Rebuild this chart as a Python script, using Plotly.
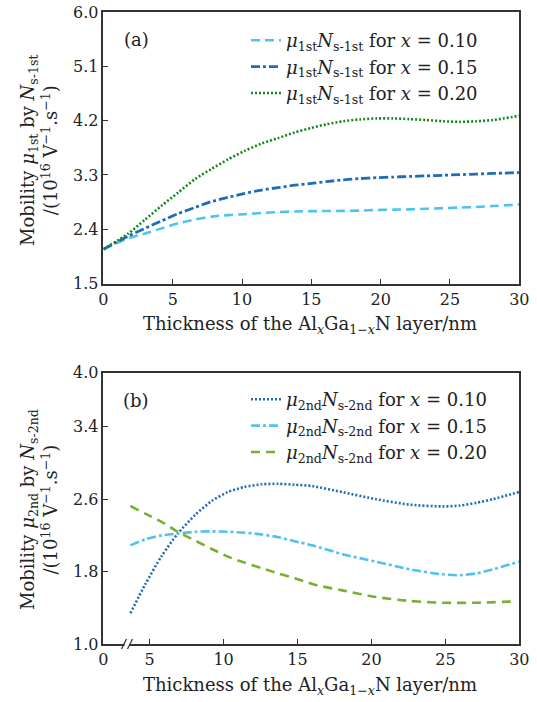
import plotly.graph_objects as go

# ---------------- data: panel (a) ----------------
xa = [0, 1.8, 3.0, 4.2, 5.4, 6.6, 7.8, 9.0, 10.2, 11.4, 12.6, 13.8, 15.0, 16.1, 17.3, 18.5,
      19.7, 20.9, 22.1, 23.3, 24.5, 25.7, 26.9, 28.1, 30.0]
a_x010 = [2.07, 2.25, 2.33, 2.415, 2.50, 2.56, 2.61, 2.635, 2.65, 2.67, 2.685, 2.695, 2.70, 2.703,
          2.705, 2.71, 2.72, 2.725, 2.73, 2.74, 2.75, 2.76, 2.77, 2.785, 2.81]
a_x015 = [2.07, 2.29, 2.415, 2.54, 2.66, 2.76, 2.86, 2.93, 2.995, 3.05, 3.09, 3.13, 3.16, 3.19,
          3.22, 3.24, 3.255, 3.265, 3.275, 3.285, 3.295, 3.305, 3.315, 3.325, 3.34]
a_x020 = [2.07, 2.33, 2.56, 2.79, 3.01, 3.23, 3.40, 3.56, 3.70, 3.82, 3.91, 4.005, 4.08, 4.14,
          4.19, 4.22, 4.237, 4.237, 4.225, 4.21, 4.19, 4.18, 4.19, 4.21, 4.28]

# ---------------- data: panel (b) ----------------
xb = [3.7, 4.7, 5.8, 6.9, 8.1, 9.2, 10.3, 11.4, 12.6, 13.7, 14.8, 16.0, 18.1, 20.3, 22.6,
      24.8, 26.0, 27.1, 28.2, 30.0]
b_x010 = [1.34, 1.66, 1.97, 2.22, 2.43, 2.58, 2.68, 2.735, 2.765, 2.77, 2.76, 2.745, 2.676,
          2.60, 2.54, 2.52, 2.53, 2.56, 2.60, 2.68]
b_x015 = [2.09, 2.157, 2.20, 2.22, 2.24, 2.245, 2.24, 2.23, 2.21, 2.18, 2.135, 2.09, 1.99,
          1.91, 1.825, 1.77, 1.76, 1.78, 1.825, 1.91]
xb_g = [3.7, 4.7, 5.8, 6.9, 8.1, 9.2, 10.3, 11.4, 12.6, 13.7, 14.8, 15.7, 16.3, 18.1, 20.3,
        22.6, 24.8, 27.1, 29.6]
b_x020 = [2.525, 2.44, 2.35, 2.24, 2.14, 2.05, 1.965, 1.90, 1.836, 1.78, 1.726, 1.68, 1.65,
          1.59, 1.52, 1.475, 1.456, 1.456, 1.47]

xa_ticks = [0, 5, 10, 15, 20, 25, 30]
ya_ticks = [1.5, 2.4, 3.3, 4.2, 5.1, 6.0]
xb_ticks = [1.87, 5, 10, 15, 20, 25, 30]
xb_ticktext = ["0", "5", "10", "15", "20", "25", "30"]
yb_ticks = [1.0, 1.8, 2.6, 3.4, 4.0]

W, H = 537, 702
FONT = "DejaVu Serif"
FS = 18      # titles / legend
FS_TICK = 16

def px_x(p):
    return p / W

def px_y(p):
    return 1 - p / H

fig = go.Figure()

lab1 = "<i>μ</i><sub>1st</sub><i>N</i><sub>s-1st</sub> for <i>x</i> = "
lab2 = "<i>μ</i><sub>2nd</sub><i>N</i><sub>s-2nd</sub> for <i>x</i> = "
SM = 0.7

fig.add_trace(go.Scatter(x=xa, y=a_x010, mode="lines", name=lab1 + "0.10",
                         line=dict(color="#4fc1f2", width=2.6, dash="9px,5px", shape="spline", smoothing=SM),
                         xaxis="x", yaxis="y", legend="legend"))
fig.add_trace(go.Scatter(x=xa, y=a_x015, mode="lines", name=lab1 + "0.15",
                         line=dict(color="#1f6cb8", width=2.8, dash="9px,3px,3px,3px", shape="spline", smoothing=SM),
                         xaxis="x", yaxis="y", legend="legend"))
fig.add_trace(go.Scatter(x=xa, y=a_x020, mode="lines", name=lab1 + "0.20",
                         line=dict(color="#138a1e", width=2.6, dash="2px,2px", shape="spline", smoothing=SM),
                         xaxis="x", yaxis="y", legend="legend"))

fig.add_trace(go.Scatter(x=xb, y=b_x010, mode="lines", name=lab2 + "0.10",
                         line=dict(color="#1f6cb8", width=2.6, dash="2px,2px", shape="spline", smoothing=SM),
                         xaxis="x2", yaxis="y2", legend="legend2"))
fig.add_trace(go.Scatter(x=xb, y=b_x015, mode="lines", name=lab2 + "0.15",
                         line=dict(color="#4fc1f2", width=2.6, dash="9px,3px,3px,3px", shape="spline", smoothing=SM),
                         xaxis="x2", yaxis="y2", legend="legend2"))
fig.add_trace(go.Scatter(x=xb_g, y=b_x020, mode="lines", name=lab2 + "0.20",
                         line=dict(color="#78b031", width=2.6, dash="9px,6px", shape="spline", smoothing=SM),
                         xaxis="x2", yaxis="y2", legend="legend2"))

axis_common = dict(showline=True, linecolor="#333333", linewidth=1.5, mirror=True,
                   ticks="inside", ticklen=5, tickwidth=1.2, tickcolor="#333333",
                   showgrid=False, zeroline=False, automargin=False,
                   tickfont=dict(family=FONT, size=FS_TICK, color="#222222"))

fig.update_layout(
    width=W, height=H,
    margin=dict(l=0, r=0, t=0, b=0, pad=0),
    paper_bgcolor="white", plot_bgcolor="white",
    showlegend=True,
    xaxis=dict(domain=[px_x(103.4), px_x(519.3)], range=[0, 30], tickvals=xa_ticks,
               anchor="y", **axis_common),
    yaxis=dict(domain=[px_y(283.6), px_y(12)], range=[1.5, 6.0], tickvals=ya_ticks,
               tickformat=".1f", anchor="x", **axis_common),
    xaxis2=dict(domain=[px_x(103.4), px_x(519.3)], range=[1.87, 30], tickvals=xb_ticks,
                ticktext=xb_ticktext, anchor="y2", **axis_common),
    yaxis2=dict(domain=[px_y(644), px_y(372.5)], range=[1.0, 4.0], tickvals=yb_ticks,
                tickformat=".1f", anchor="x2", **axis_common),
    legend=dict(x=px_x(246), y=px_y(22), xanchor="left", yanchor="top",
                bgcolor="rgba(0,0,0,0)", font=dict(family=FONT, size=FS, color="#222222"),
                tracegroupgap=0, itemwidth=30),
    legend2=dict(x=px_x(246), y=px_y(381), xanchor="left", yanchor="top",
                 bgcolor="rgba(0,0,0,0)", font=dict(family=FONT, size=FS, color="#222222"),
                 tracegroupgap=0, itemwidth=30),
)

ann_font = dict(family=FONT, size=FS, color="#222222")
C = dict(xref="paper", yref="paper", showarrow=False, font=ann_font,
         xanchor="center", yanchor="middle")
annotations = [
    dict(text="(a)", x=px_x(136), y=px_y(40), **C),
    dict(text="(b)", x=px_x(136), y=px_y(400), **C),
    dict(text="Thickness of the Al<i><sub>x</sub></i>Ga<sub>1−<i>x</i></sub>N layer/nm",
         x=px_x(310), y=px_y(325), **C),
    dict(text="Thickness of the Al<i><sub>x</sub></i>Ga<sub>1−<i>x</i></sub>N layer/nm",
         x=px_x(310), y=px_y(686), **C),
    dict(text="Mobility <i>μ</i><sub>1st</sub> by <i>N</i><sub>s-1st</sub><br>/(10<sup>16</sup> V<sup>−1</sup>.s<sup>−1</sup>)",
         x=px_x(39), y=px_y(150), textangle=-90, **C),
    dict(text="Mobility <i>μ</i><sub>2nd</sub> by <i>N</i><sub>s-2nd</sub><br>/(10<sup>16</sup> V<sup>−1</sup>.s<sup>−1</sup>)",
         x=px_x(39), y=px_y(510), textangle=-90, **C),
]
fig.update_layout(annotations=annotations)

# axis break marks "//" on panel (b) x axis
def bx(p):
    return 5 + (p - 149.7) / 14.8

shapes = [
    dict(type="rect", xref="x2", yref="paper", x0=bx(124.5), x1=bx(129.5),
         y0=px_y(646), y1=px_y(642), fillcolor="white", line=dict(width=0)),
    dict(type="line", xref="x2", yref="paper", x0=bx(121.5), y0=px_y(649), x1=bx(126.5), y1=px_y(639),
         line=dict(color="#333333", width=1.3)),
    dict(type="line", xref="x2", yref="paper", x0=bx(127.5), y0=px_y(649), x1=bx(132.5), y1=px_y(639),
         line=dict(color="#333333", width=1.3)),
]
fig.update_layout(shapes=shapes)

fig.write_html("out.html", config={"displayModeBar": False},
               post_script="document.body.style.margin='0';document.body.style.padding='0';")
